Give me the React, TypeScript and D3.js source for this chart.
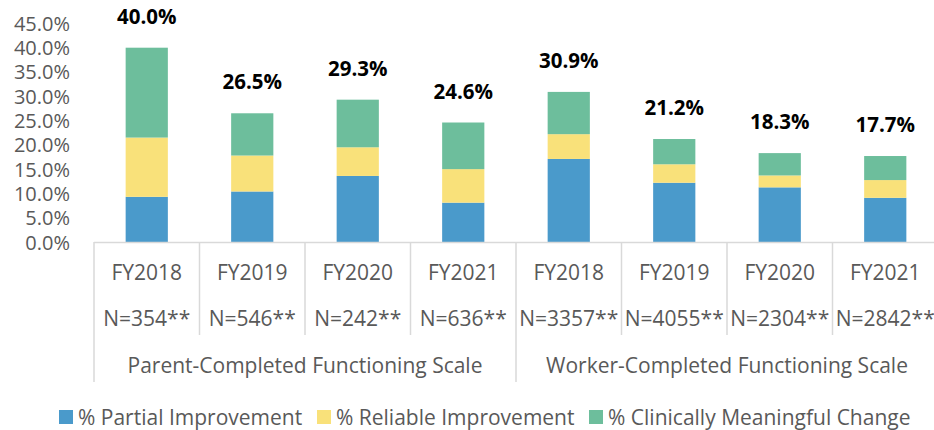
import React from "react";
import * as d3 from "d3";

const years = ["FY2018", "FY2019", "FY2020", "FY2021", "FY2018", "FY2019", "FY2020", "FY2021"];
const nLabels = ["N=354**", "N=546**", "N=242**", "N=636**", "N=3357**", "N=4055**", "N=2304**", "N=2842**"];
const groups = ["Parent-Completed Functioning Scale", "Worker-Completed Functioning Scale"];
const partial = [9.3, 10.4, 13.6, 8.1, 17.1, 12.2, 11.25, 9.1];
const reliable = [12.2, 7.4, 5.9, 6.9, 5.1, 3.8, 2.45, 3.65];
const clinical = [18.5, 8.7, 9.8, 9.6, 8.7, 5.2, 4.6, 4.95];
const totals = ["40.0%", "26.5%", "29.3%", "24.6%", "30.9%", "21.2%", "18.3%", "17.7%"];
const seriesNames = ["% Partial Improvement", "% Reliable Improvement", "% Clinically Meaningful Change"];
const yTicks = [0, 5, 10, 15, 20, 25, 30, 35, 40, 45];

const colors = ["#4A9ACB", "#F9E17A", "#6DBE9C"];
const FONT = "'Open Sans', sans-serif";
const GRAY = "#595959";
const LINE = "#D9D9D9";

export default function App() {
  const W = 934, H = 430;
  const left = 94, right = 938, baseY = 242;
  const x = d3.scaleBand<number>().domain(d3.range(8)).range([left, right]).padding(0);
  const y = d3.scaleLinear().domain([0, 40]).range([baseY, 47.7]);
  const bw = x.bandwidth() * 0.4;

  const rows = d3.range(8).map((i) => ({ i, p: partial[i], r: reliable[i], c: clinical[i] }));
  const stack = d3.stack<any>().keys(["p", "r", "c"])(rows);

  const legendX = [59, 317, 589];

  return (
    <svg width={W} height={H} style={{ position: "absolute", left: 0, top: 0, background: "#fff" }} fontFamily={FONT}>
      {yTicks.map((t) => (
        <text key={t} x={70} y={y(t)} textAnchor="end" dominantBaseline="central" fontSize={20} fill={GRAY}>
          {t.toFixed(1) + "%"}
        </text>
      ))}
      {stack.map((s, si) =>
        s.map((d, i) => (
          <rect
            key={si + "-" + i}
            x={(x(i) as number) + (x.bandwidth() - bw) / 2}
            y={y(d[1])}
            width={bw}
            height={y(d[0]) - y(d[1])}
            fill={colors[si]}
          />
        ))
      )}
      {rows.map((r, i) => (
        <text
          key={"t" + i}
          x={(x(i) as number) + x.bandwidth() / 2}
          y={y(r.p + r.r + r.c) - 32}
          textAnchor="middle"
          dominantBaseline="central"
          fontSize={20.5}
          fontWeight="bold"
          fill="#000"
        >
          {totals[i]}
        </text>
      ))}
      <line x1={left} x2={W} y1={baseY + 0.5} y2={baseY + 0.5} stroke={LINE} strokeWidth={1.5} />
      {d3.range(9).map((i) => {
        const xx = i < 8 ? (x(i) as number) : right;
        const isGroup = i % 4 === 0;
        return (
          <line key={"d" + i} x1={xx} x2={xx} y1={baseY} y2={isGroup ? 382 : 335} stroke={LINE} strokeWidth={1.5} />
        );
      })}
      {years.map((yr, i) => (
        <g key={"c" + i}>
          <text x={(x(i) as number) + x.bandwidth() / 2} y={272} textAnchor="middle" dominantBaseline="central" fontSize={21} fill={GRAY}>
            {yr}
          </text>
          <text x={(x(i) as number) + x.bandwidth() / 2} y={318} textAnchor="middle" dominantBaseline="central" fontSize={21} fill={GRAY}>
            {nLabels[i]}
          </text>
        </g>
      ))}
      {groups.map((g, gi) => (
        <text
          key={"g" + gi}
          x={(x(gi * 4) as number) + x.bandwidth() * 2}
          y={365}
          textAnchor="middle"
          dominantBaseline="central"
          fontSize={21}
          fill={GRAY}
        >
          {g}
        </text>
      ))}
      {seriesNames.map((s, si) => (
        <g key={"l" + si}>
          <rect x={legendX[si]} y={410} width={14} height={14} fill={colors[si]} />
          <text x={legendX[si] + 19} y={417} dominantBaseline="central" fontSize={21} fill={GRAY}>
            {s}
          </text>
        </g>
      ))}
    </svg>
  );
}
